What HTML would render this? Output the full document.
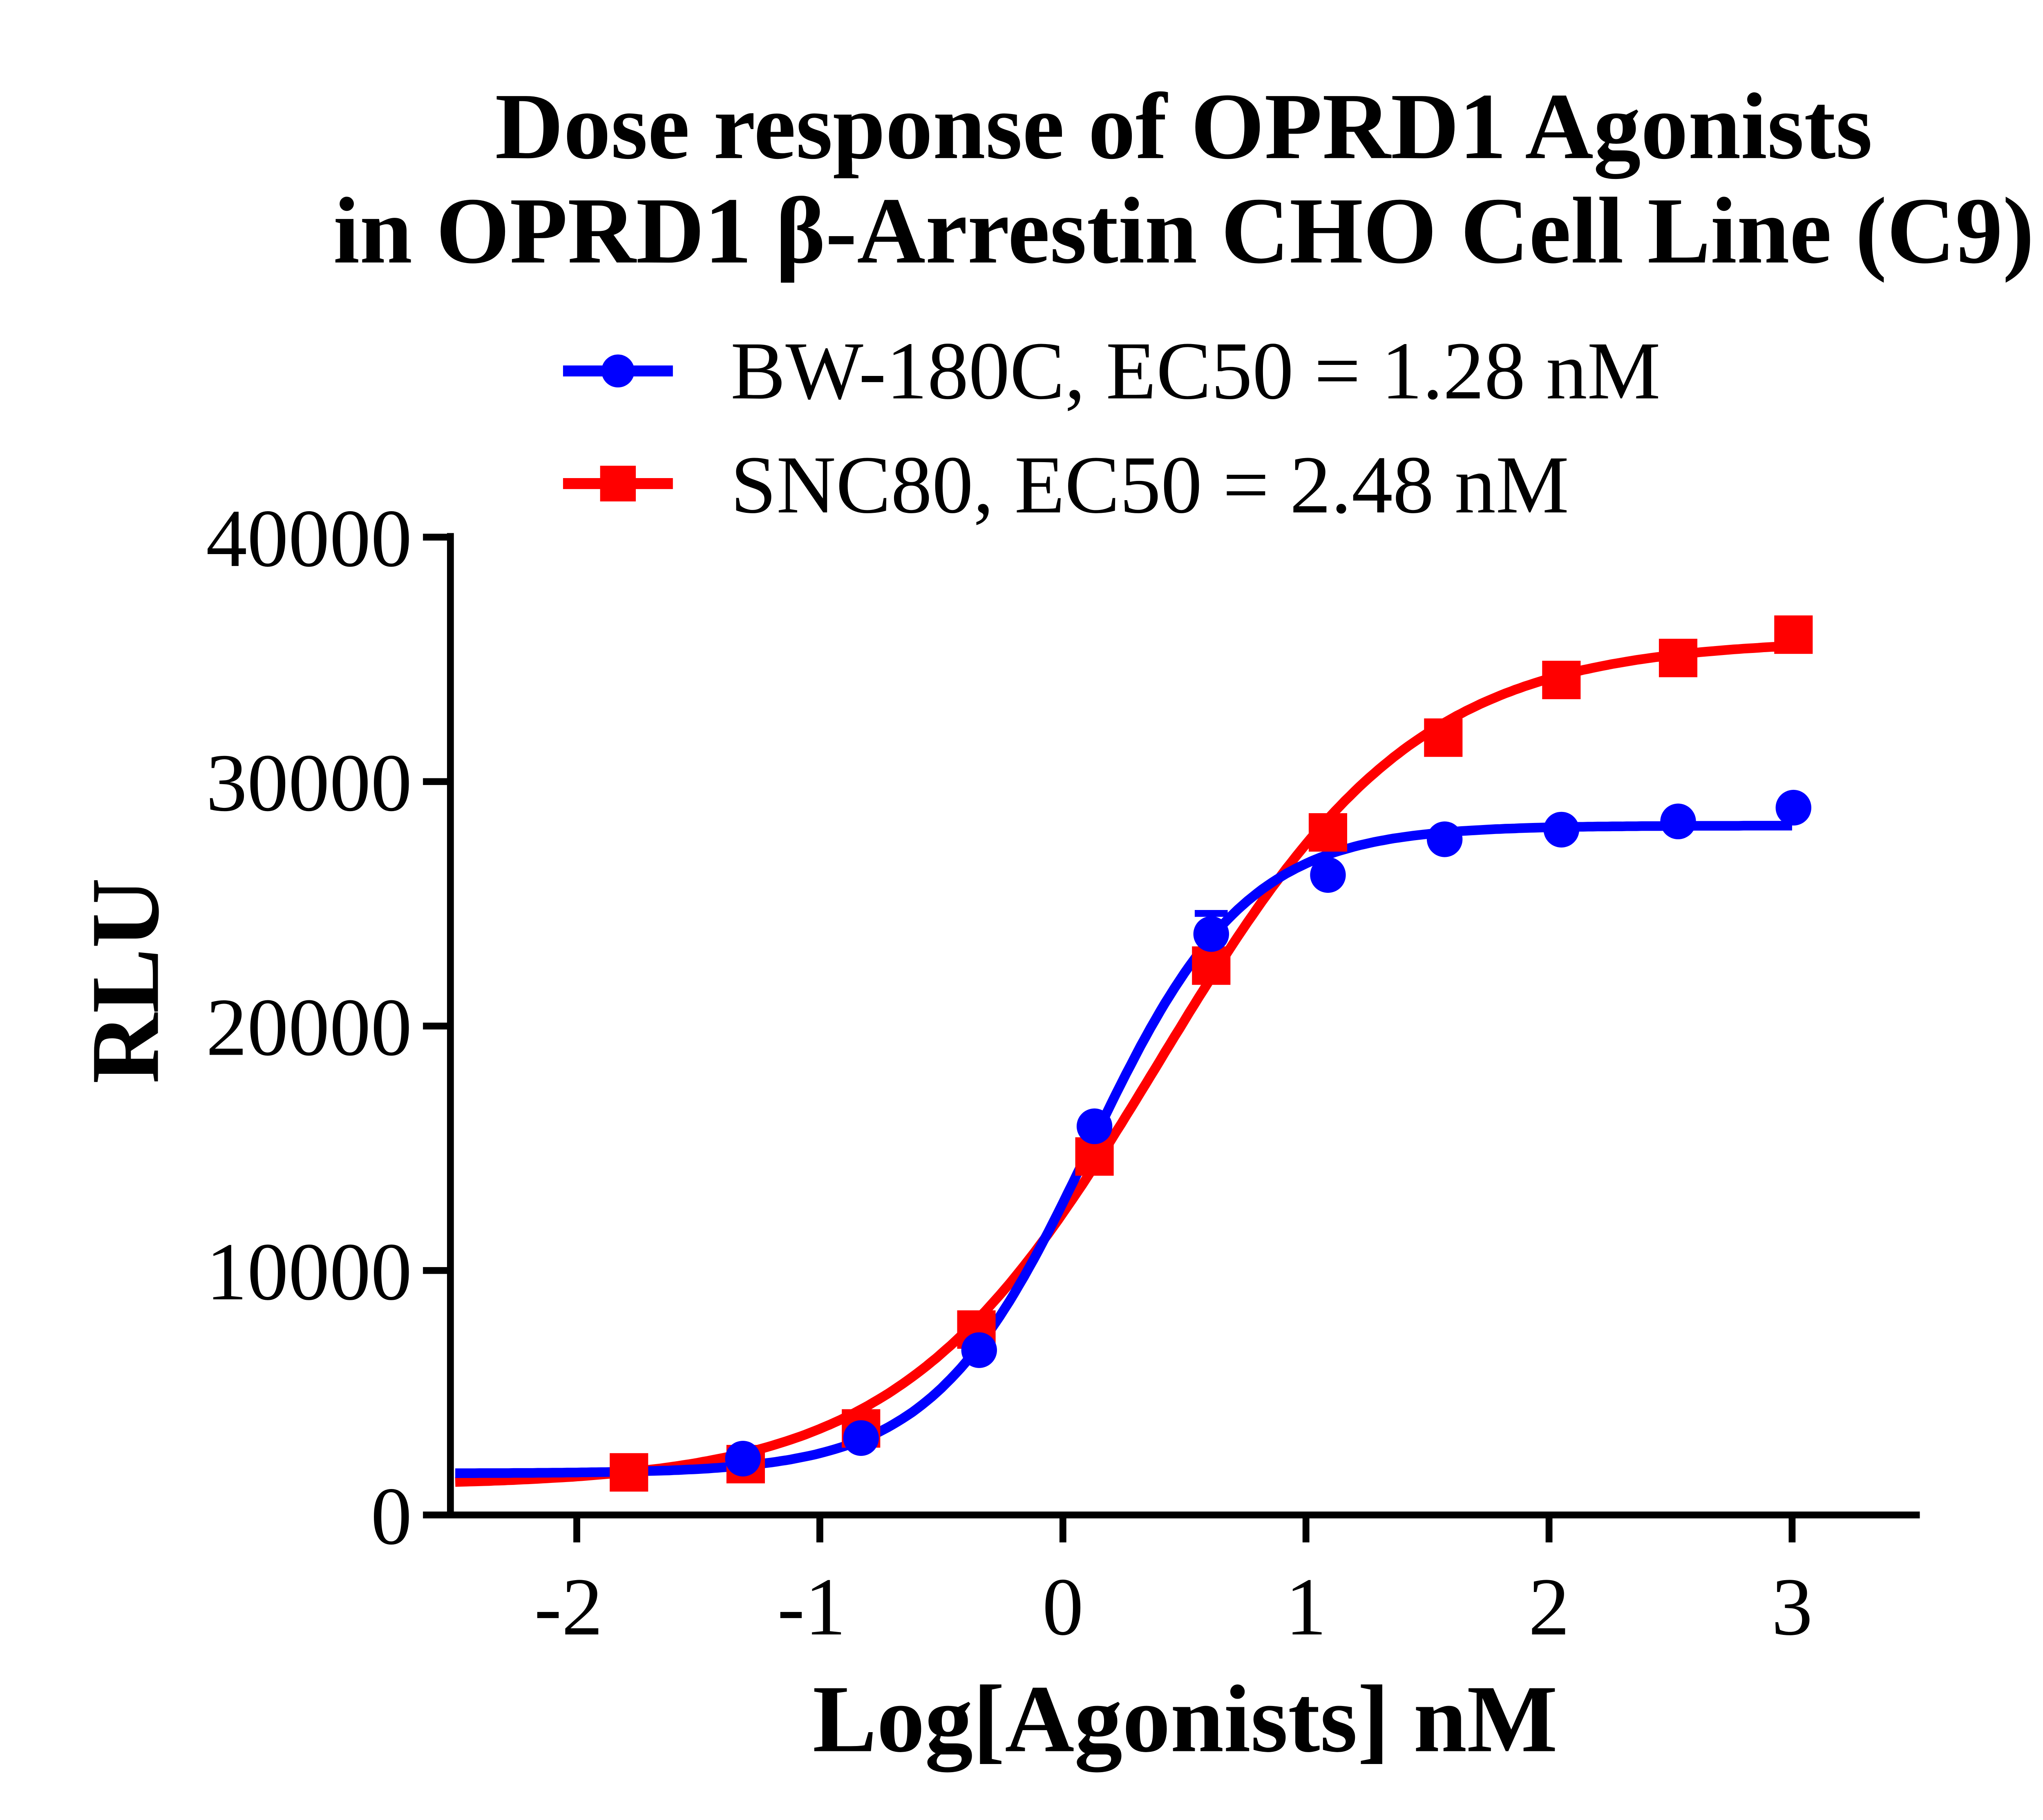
<!DOCTYPE html>
<html><head><meta charset="utf-8"><style>html,body{margin:0;padding:0;background:#fff}svg{display:block}</style></head>
<body>
<svg id="s" width="5206" height="4454" viewBox="0 0 1549 1325" xmlns="http://www.w3.org/2000/svg" font-family="Liberation Serif, serif">
<rect width="1549" height="1325" fill="#fff"/>
<text x="862" y="115" font-size="69" font-weight="bold" text-anchor="middle">Dose response of OPRD1 Agonists</text>
<text x="862" y="191" font-size="69" font-weight="bold" text-anchor="middle">in OPRD1 β-Arrestin CHO Cell Line (C9)</text>
<line x1="410" y1="270" x2="490" y2="270" stroke="#0000ff" stroke-width="8"/>
<circle cx="450" cy="270" r="12" fill="#0000ff"/>
<text x="532" y="290" font-size="60">BW-180C, EC50 = 1.28 nM</text>
<line x1="410" y1="352" x2="490" y2="352" stroke="#ff0000" stroke-width="8"/>
<rect x="437" y="339" width="26" height="26" fill="#ff0000"/>
<text x="532" y="373" font-size="60">SNC80, EC50 = 2.48 nM</text>
<g stroke="#000" stroke-width="5" fill="none">
<line x1="328" y1="388" x2="328" y2="1105"/>
<line x1="308" y1="1103" x2="1398" y2="1103"/>
<line x1="308" y1="391" x2="328" y2="391"/><line x1="308" y1="569" x2="328" y2="569"/>
<line x1="308" y1="747" x2="328" y2="747"/><line x1="308" y1="925" x2="328" y2="925"/>
<line x1="420" y1="1103" x2="420" y2="1123"/><line x1="597" y1="1103" x2="597" y2="1123"/>
<line x1="774" y1="1103" x2="774" y2="1123"/><line x1="951" y1="1103" x2="951" y2="1123"/>
<line x1="1128" y1="1103" x2="1128" y2="1123"/><line x1="1305" y1="1103" x2="1305" y2="1123"/>
</g>
<g font-size="60" text-anchor="end">
<text x="300" y="412">40000</text><text x="300" y="590">30000</text>
<text x="300" y="768">20000</text><text x="300" y="946">10000</text><text x="300" y="1124">0</text>
</g>
<g font-size="60" text-anchor="middle">
<text x="414" y="1190">-2</text><text x="591" y="1190">-1</text><text x="774" y="1190">0</text>
<text x="951" y="1190">1</text><text x="1128" y="1190">2</text><text x="1305" y="1190">3</text>
</g>
<text transform="translate(115,714) rotate(-90)" font-size="71" font-weight="bold" text-anchor="middle">RLU</text>
<text x="863" y="1275" font-size="70" font-weight="bold" text-anchor="middle">Log[Agonists] nM</text>
<g id="g"></g>
</svg>
<script>
var g=document.getElementById('g'),NS='http://www.w3.org/2000/svg';
function X(l){return 774+177*l}function Y(v){return 1103-v*0.0178}
function curve(B,T,ec,h,col){var d='';for(var l=-2.5;l<=3.001;l+=0.02){var v=B+(T-B)/(1+Math.pow(10,(ec-l)*h));d+=(d?'L':'M')+X(l).toFixed(1)+','+Y(v).toFixed(1)}
var p=document.createElementNS(NS,'path');p.setAttribute('d',d);p.setAttribute('stroke',col);p.setAttribute('stroke-width','7');p.setAttribute('fill','none');g.appendChild(p)}
curve(1200,35800,0.394,0.82,'#ff0000');
curve(1700,28200,0.107,1.35,'#0000ff');
var red=[[458,1072],[543,1066],[627,1040],[711,968],[797,842],[882,703],[967,606],[1051,537],[1137,495],[1222,479],[1306,462]];
red.forEach(function(p){var r=document.createElementNS(NS,'rect');r.setAttribute('x',p[0]-14);r.setAttribute('y',p[1]-14);r.setAttribute('width',28);r.setAttribute('height',28);r.setAttribute('fill','#ff0000');g.appendChild(r)});
var blue=[[541,1062],[627,1047],[713,983],[797,820],[882,680],[967,637],[1052,611],[1137,604],[1222,598],[1306,588]];
blue.forEach(function(p){var c=document.createElementNS(NS,'circle');c.setAttribute('cx',p[0]);c.setAttribute('cy',p[1]);c.setAttribute('r',13);c.setAttribute('fill','#0000ff');g.appendChild(c)});
var e=document.createElementNS(NS,'path');e.setAttribute('d','M882,680V665M870,665H894');e.setAttribute('stroke','#0000ff');e.setAttribute('stroke-width','5');g.appendChild(e);
</script>
</body></html>
